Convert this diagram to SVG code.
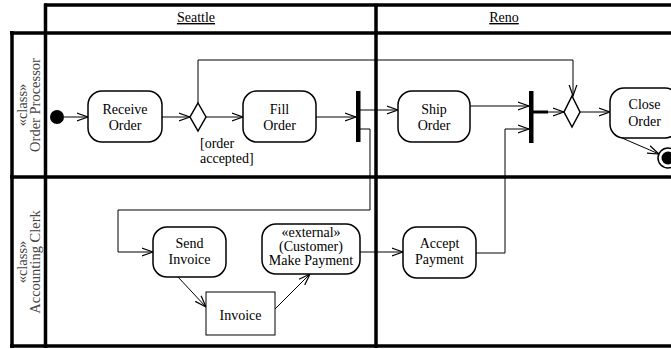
<svg xmlns="http://www.w3.org/2000/svg" width="671" height="349" viewBox="0 0 671 349" font-family="'Liberation Serif','DejaVu Serif',serif">
<defs>
<marker id="arr" viewBox="0 0 12 10" refX="11.5" refY="5" markerWidth="12" markerHeight="10" markerUnits="userSpaceOnUse" orient="auto">
<path d="M0,1 L11.5,5 L0,9" fill="none" stroke="#000" stroke-width="1.2"/>
</marker>
</defs>
<style>
text{font-family:'Liberation Serif','DejaVu Serif',serif;font-size:14px;fill:#000}
.c{text-anchor:middle}
.lane{stroke:#000;stroke-width:3.5;fill:none}
.act{fill:#fff;stroke:#000;stroke-width:1.5}
.obj{fill:#fff;stroke:#000;stroke-width:1}
.bar{fill:#000}
.edge{fill:none;stroke:#000;stroke-width:1;marker-end:url(#arr)}
.lbl{fill:#444;font-size:14.5px}
.hdr{text-decoration:underline}
</style>
<rect x="0" y="0" width="671" height="349" fill="#fff"/>
<g id="swimlanes">
<line class="lane" x1="44" y1="5" x2="671" y2="5"/>
<line class="lane" x1="10" y1="33" x2="671" y2="33"/>
<line class="lane" x1="12" y1="31" x2="12" y2="348"/>
<line class="lane" x1="45.5" y1="3.5" x2="45.5" y2="348"/>
<line class="lane" x1="10" y1="177" x2="671" y2="177"/>
<line class="lane" x1="10" y1="346" x2="671" y2="346"/>
<line class="lane" x1="376" y1="3.5" x2="376" y2="348"/>
<text class="c hdr" x="196" y="22">Seattle</text>
<text class="c hdr" x="504" y="22">Reno</text>
<text class="c lbl" transform="translate(26.5,105) rotate(-90)">«class»</text>
<text class="c lbl" transform="translate(39.5,105) rotate(-90)">Order Processor</text>
<text class="c lbl" transform="translate(26.5,262) rotate(-90)">«class»</text>
<text class="c lbl" transform="translate(39.5,262) rotate(-90)">Accounting Clerk</text>
</g>
<g id="connectors">
<path class="edge" d="M64,117 H88"/>
<path class="edge" d="M162,117 H190"/>
<path class="edge" d="M206,117 H243"/>
<path class="edge" d="M198,103 V60 H573 V96"/>
<path class="edge" d="M316,117 H356"/>
<path class="edge" d="M360,110 H398"/>
<path class="edge" d="M360,129 H370 V210 H118 V252 H153"/>
<path class="edge" d="M470,106 H529"/>
<path class="edge" d="M476,253 H505 V129 H529"/>
<line x1="533" y1="112" x2="548" y2="112" stroke="#000" stroke-width="3"/>
<path class="edge" d="M533,112 H564"/>
<path class="edge" d="M580,112 H610"/>
<path class="edge" d="M622,138 L659,154"/>
<path class="edge" d="M178,277 L206,307"/>
<path class="edge" d="M275,309 L310,274"/>
<path class="edge" d="M360,252 H403"/>
<text x="200" y="148">[order</text>
<text x="200" y="163">accepted]</text>
</g>
<g id="initial"><circle cx="57" cy="117" r="7" fill="#000"/></g>
<g id="receive-order">
<rect class="act" x="88" y="91" width="74" height="51" rx="14"/>
<text class="c" x="125" y="113.5">Receive</text>
<text class="c" x="125" y="129.5">Order</text>
</g>
<g id="decision1"><polygon class="act" points="198,103 206,117 198,131 190,117"/></g>
<g id="fill-order">
<rect class="act" x="243" y="91" width="73" height="51" rx="14"/>
<text class="c" x="279.5" y="113.5">Fill</text>
<text class="c" x="279.5" y="129.5">Order</text>
</g>
<g id="fork"><rect class="bar" x="356" y="91" width="4.5" height="51"/></g>
<g id="ship-order">
<rect class="act" x="398" y="91" width="72" height="51" rx="14"/>
<text class="c" x="434" y="113.5">Ship</text>
<text class="c" x="434" y="129.5">Order</text>
</g>
<g id="join"><rect class="bar" x="529" y="91" width="4.5" height="52"/></g>
<g id="decision2"><polygon class="act" points="572,96 580,112 572,127 564,112"/></g>
<g id="close-order">
<rect class="act" x="610" y="88" width="69" height="50" rx="14"/>
<text class="c" x="644.5" y="109">Close</text>
<text class="c" x="644.5" y="125.5">Order</text>
</g>
<g id="final">
<circle cx="668" cy="158" r="10" fill="#fff" stroke="#000" stroke-width="1.5"/>
<circle cx="668" cy="158" r="6.5" fill="#000"/>
</g>
<g id="send-invoice">
<rect class="act" x="153" y="227" width="73" height="50" rx="14"/>
<text class="c" x="189.5" y="248">Send</text>
<text class="c" x="189.5" y="264">Invoice</text>
</g>
<g id="make-payment">
<rect class="act" x="262" y="224" width="98" height="50" rx="14"/>
<text class="c" x="311" y="237">«external»</text>
<text class="c" x="311" y="251">(Customer)</text>
<text class="c" x="311" y="265">Make Payment</text>
</g>
<g id="accept-payment">
<rect class="act" x="403" y="227" width="73" height="51" rx="14"/>
<text class="c" x="439.5" y="248">Accept</text>
<text class="c" x="439.5" y="264">Payment</text>
</g>
<g id="invoice">
<rect class="obj" x="206" y="292" width="69" height="43"/>
<text class="c" x="240.5" y="320">Invoice</text>
</g>
</svg>
